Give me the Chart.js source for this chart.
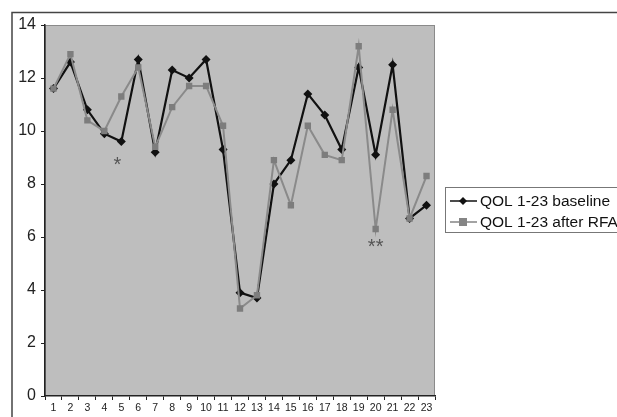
<!DOCTYPE html>
<html>
<head>
<meta charset="utf-8">
<script src="https://cdn.jsdelivr.net/npm/chart.js@4"></script>
<style>
  html, body { margin: 0; padding: 0; background: #fff; }
  #wrap { width: 617px; height: 417px; }
</style>
</head>
<body>
<div id="wrap"><canvas id="qolChart" width="617" height="417"></canvas></div>
<script>
// --- data ---
const patients = ["1","2","3","4","5","6","7","8","9","10","11","12","13","14","15","16","17","18","19","20","21","22","23"];
const baseline = [11.6, 12.6, 10.8, 9.9, 9.6, 12.7, 9.2, 12.3, 12.0, 12.7, 9.3, 3.9, 3.7, 8.0, 8.9, 11.4, 10.6, 9.3, 12.4, 9.1, 12.5, 6.7, 7.2];
const afterRfa = [11.6, 12.9, 10.4, 10.0, 11.3, 12.4, 9.4, 10.9, 11.7, 11.7, 10.2, 3.3, 3.8, 8.9, 7.2, 10.2, 9.1, 8.9, 13.2, 6.3, 10.8, 6.7, 8.3];
const markLabels = ["*", "**"];
const markIndex = [4, 19];
const markValue = [8.7, 5.6];

// frame, grey plot area, asterisks and the boxed legend
const decor = {
  id: "decor",
  beforeDraw(chart) {
    const { ctx, chartArea: a } = chart;
    ctx.save();
    ctx.fillStyle = "#fff";
    ctx.fillRect(0, 0, chart.width, chart.height);
    ctx.strokeStyle = "#444";
    ctx.lineWidth = 1.5;
    ctx.beginPath();
    ctx.moveTo(12, chart.height);
    ctx.lineTo(12, 12.5);
    ctx.lineTo(chart.width, 12.5);
    ctx.stroke();
    ctx.fillStyle = "#bebebe";
    ctx.fillRect(a.left, a.top, a.right - a.left, a.bottom - a.top);
    ctx.strokeStyle = "#8a8a8a";
    ctx.lineWidth = 1;
    ctx.strokeRect(a.left + 0.5, a.top + 0.5, a.right - a.left - 1, a.bottom - a.top - 1);
    ctx.restore();
  },
  afterDraw(chart) {
    const { ctx, scales } = chart;
    ctx.save();
    ctx.fillStyle = "#555";
    ctx.font = "20px 'Liberation Sans', Arial, sans-serif";
    ctx.textAlign = "center";
    ctx.textBaseline = "middle";
    markLabels.forEach((t, i) => {
      const x = scales.x.getPixelForValue(markIndex[i]) - (i === 0 ? 4 : 0);
      ctx.fillText(t, x, scales.y.getPixelForValue(markValue[i]));
    });

    // legend
    ctx.strokeStyle = "#777";
    ctx.lineWidth = 1;
    ctx.strokeRect(445.5, 187.5, 180, 45);
    const rows = [
      { y: 201, color: "#111", text: "QOL 1-23 baseline", shape: "diamond" },
      { y: 222, color: "#858585", text: "QOL 1-23 after RFA", shape: "square" }
    ];
    ctx.font = "15.5px 'Liberation Sans', Arial, sans-serif";
    ctx.textAlign = "left";
    rows.forEach(r => {
      ctx.strokeStyle = r.color;
      ctx.lineWidth = 1.5;
      ctx.beginPath();
      ctx.moveTo(450, r.y);
      ctx.lineTo(477, r.y);
      ctx.stroke();
      ctx.fillStyle = r.color;
      ctx.beginPath();
      if (r.shape === "diamond") {
        ctx.moveTo(463, r.y - 4); ctx.lineTo(467, r.y); ctx.lineTo(463, r.y + 4); ctx.lineTo(459, r.y);
      } else {
        ctx.rect(459, r.y - 4, 8, 8);
      }
      ctx.fill();
      ctx.fillStyle = "#111";
      ctx.fillText(r.text, 480, r.y + 1);
    });
    ctx.restore();
  }
};

new Chart(document.getElementById("qolChart"), {
  type: "line",
  data: {
    labels: patients,
    datasets: [
      {
        label: "QOL 1-23 after RFA",
        data: afterRfa,
        borderColor: "#8a8a8a",
        backgroundColor: "#7d7d7d",
        borderWidth: 2,
        pointStyle: "rect",
        pointRadius: 4.5,
        pointBorderWidth: 0,
        tension: 0
      },
      {
        label: "QOL 1-23 baseline",
        data: baseline,
        borderColor: "#111",
        backgroundColor: "#111",
        borderWidth: 2.2,
        pointStyle: "rectRot",
        pointRadius: 4.5,
        pointBorderWidth: 0,
        tension: 0
      }
    ]
  },
  options: {
    responsive: false,
    animation: false,
    layout: { padding: { left: 12, top: 25, right: 182, bottom: 0 } },
    plugins: { legend: { display: false }, tooltip: { enabled: false } },
    scales: {
      x: {
        offset: true,
        grid: { drawOnChartArea: false, offset: true, tickLength: 4, color: "#222" },
        border: { color: "#222", width: 1.5 },
        ticks: { color: "#222", font: { family: "'Liberation Sans', Arial", size: 10.5 }, maxRotation: 0, autoSkip: false, padding: 2 },
        afterFit(s) { s.height = 21; }
      },
      y: {
        min: 0,
        max: 14,
        grid: { drawOnChartArea: false, tickLength: 4, color: "#222" },
        border: { color: "#222", width: 1.5 },
        ticks: { stepSize: 2, color: "#222", font: { family: "'Liberation Sans', Arial", size: 16 }, padding: 5 },
        afterFit(s) { s.width = 33; }
      }
    }
  },
  plugins: [decor]
});
</script>
</body>
</html>
